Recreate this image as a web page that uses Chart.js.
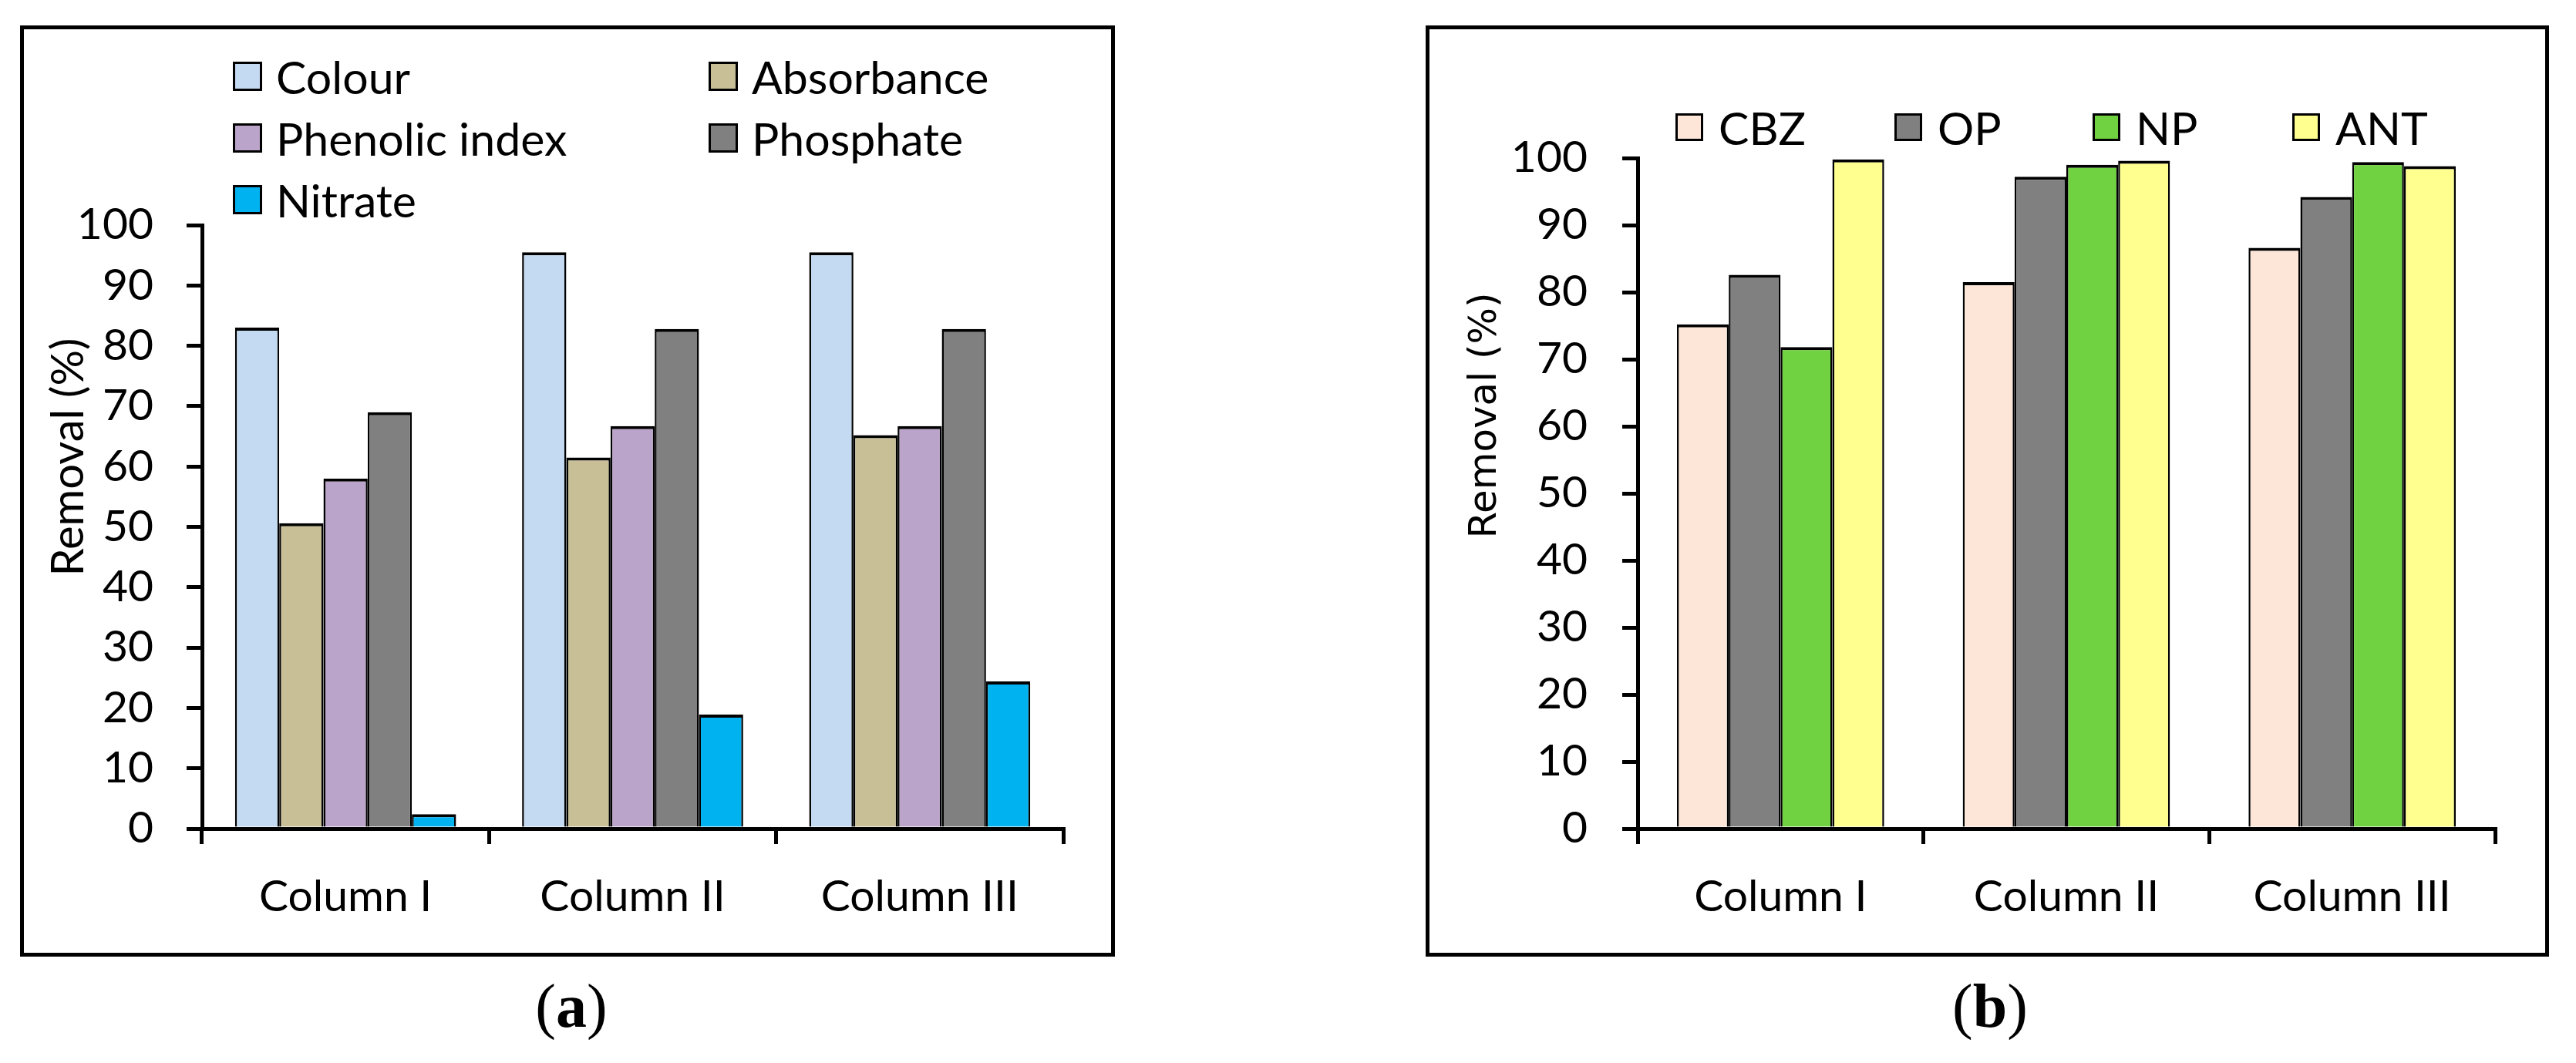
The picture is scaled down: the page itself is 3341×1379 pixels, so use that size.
<!DOCTYPE html>
<html>
<head>
<meta charset="utf-8">
<title>Removal (%)</title>
<script src="https://cdn.jsdelivr.net/npm/chart.js@4.4.0/dist/chart.umd.min.js"></script>
<style>
  body { margin: 0; width: 3341px; height: 1379px; background: #fff; position: relative; overflow: hidden; font-family: Lato, sans-serif; }
  .panel { position: absolute; top: 33px; height: 1198px; border: 5px solid #000; background: #fff; }
  #panelA { left: 26px; width: 1410px; }
  #panelB { left: 1849px; width: 1447px; }
  .panel canvas { position: absolute; left: 0; top: 0; }
  .legend { position: absolute; display: grid; color: #000; }
  .legend .item { display: flex; align-items: center; white-space: nowrap; }
  .legend .box { box-sizing: border-box; border: 3px solid #000; margin-right: 18px; }
  #legendA { left: 271px; top: 21px; grid-template-columns: 617px auto; grid-auto-rows: 80px; font-size: 59px; }
  #legendA .box { width: 38px; height: 38px; }
  #legendB { left: 319px; top: 87px; grid-template-columns: 284px 257px 259px auto; grid-auto-rows: 80px; font-size: 59px; }
  #legendB .box { width: 36px; height: 36px; margin-right: 20px; }
  .caption { position: absolute; top: 1265px; width: 400px; text-align: center; font-family: "Liberation Serif", serif; font-size: 80px; line-height: 1; }
</style>
</head>
<body>
<div class="panel" id="panelA">
  <canvas id="chartA" width="1410" height="1198"></canvas>
  <div class="legend" id="legendA"></div>
</div>
<div class="panel" id="panelB">
  <canvas id="chartB" width="1447" height="1198"></canvas>
  <div class="legend" id="legendB"></div>
</div>
<div class="caption" style="left:541px">(<b>a</b>)</div>
<div class="caption" style="left:2381px">(<b>b</b>)</div>

<script>
// Data
const columns = ['Column I', 'Column II', 'Column III'];

// panel (a)
const colourVals = [83.0, 95.5, 95.5];
const absorbanceVals = [50.6, 61.5, 65.2];
const phenolicVals = [58.0, 66.7, 66.7];
const phosphateVals = [69.0, 82.8, 82.8];
const nitrateVals = [2.4, 18.9, 24.4];

// panel (b)
const cbzVals = [75.2, 81.5, 86.6];
const opVals = [82.6, 97.2, 94.2];
const npVals = [71.8, 99.0, 99.4];
const antVals = [99.8, 99.6, 98.8];

const yTicks = [0, 10, 20, 30, 40, 50, 60, 70, 80, 90, 100];

Chart.defaults.font.family = 'Lato, sans-serif';
Chart.defaults.color = '#000';

// Rotated y axis title, placed like the original (centred above the axis middle)
const axisTitle = {
  id: 'axisTitle',
  afterDraw(chart, args, opts) {
    const ctx = chart.ctx;
    ctx.save();
    ctx.translate(opts.x, opts.y);
    ctx.rotate(-Math.PI / 2);
    ctx.font = opts.font;
    ctx.fillStyle = '#000';
    ctx.textAlign = 'center';
    ctx.textBaseline = 'middle';
    ctx.fillText(opts.text, 0, 0);
    ctx.restore();
  }
};

function bar(label, data, color) {
  return {
    label: label,
    data: data,
    backgroundColor: color,
    borderColor: '#000',
    borderWidth: { top: 4, left: 2.5, right: 2.5, bottom: 0 },
    borderSkipped: 'start'
  };
}

function makeOptions(cfg) {
  return {
    responsive: false,
    animation: false,
    devicePixelRatio: 1,
    layout: { padding: { left: 0, top: cfg.top, right: cfg.right, bottom: 0 } },
    datasets: { bar: { categoryPercentage: cfg.catPct, barPercentage: 1.0 } },
    plugins: {
      legend: { display: false },
      tooltip: { enabled: false },
      axisTitle: cfg.title
    },
    scales: {
      x: {
        afterFit: (s) => { s.height = 161; },
        grid: { display: true, offset: true, drawOnChartArea: false, drawTicks: true, tickLength: 20, color: '#000', lineWidth: 5 },
        border: { display: true, color: '#000', width: 5 },
        ticks: { font: { size: 57, lineHeight: 1.2 }, padding: 34, color: '#000', maxRotation: 0 }
      },
      y: {
        min: 0,
        max: 100,
        afterFit: (s) => { s.width = cfg.yWidth; },
        afterBuildTicks: (s) => { s.ticks = yTicks.map(v => ({ value: v })); },
        grid: { display: true, drawOnChartArea: false, drawTicks: true, tickLength: 20, color: '#000', lineWidth: 5 },
        border: { display: true, color: '#000', width: 5 },
        ticks: { font: { size: 57 }, padding: cfg.yPad, color: '#000' }
      }
    }
  };
}

function buildLegend(el, datasets) {
  datasets.forEach(ds => {
    const item = document.createElement('div');
    item.className = 'item';
    const box = document.createElement('span');
    box.className = 'box';
    box.style.background = ds.backgroundColor;
    const txt = document.createElement('span');
    txt.textContent = ds.label;
    item.appendChild(box);
    item.appendChild(txt);
    el.appendChild(item);
  });
}

const dataA = [
  bar('Colour', colourVals, '#C3DAF2'),
  bar('Absorbance', absorbanceVals, '#C8BF96'),
  bar('Phenolic index', phenolicVals, '#BBA4CA'),
  bar('Phosphate', phosphateVals, '#808080'),
  bar('Nitrate', nitrateVals, '#00B2F0')
];

const dataB = [
  bar('CBZ', cbzVals, '#FDE6D8'),
  bar('OP', opVals, '#808080'),
  bar('NP', npVals, '#70D141'),
  bar('ANT', antVals, '#FFFF8F')
];

new Chart(document.getElementById('chartA'), {
  type: 'bar',
  data: { labels: columns, datasets: dataA },
  options: makeOptions({
    top: 254, right: 62, yWidth: 231, yPad: 43, catPct: 0.77,
    title: { text: 'Removal (%)', font: '58px Lato, sans-serif', x: 58, y: 555 }
  }),
  plugins: [axisTitle]
});

new Chart(document.getElementById('chartB'), {
  type: 'bar',
  data: { labels: columns, datasets: dataB },
  options: makeOptions({
    top: 167, right: 65, yWidth: 270, yPad: 45, catPct: 0.725,
    title: { text: 'Removal (%)', font: '50px "DejaVu Sans", sans-serif', x: 73, y: 501 }
  }),
  plugins: [axisTitle]
});

buildLegend(document.getElementById('legendA'), dataA);
buildLegend(document.getElementById('legendB'), dataB);
</script>
</body>
</html>
